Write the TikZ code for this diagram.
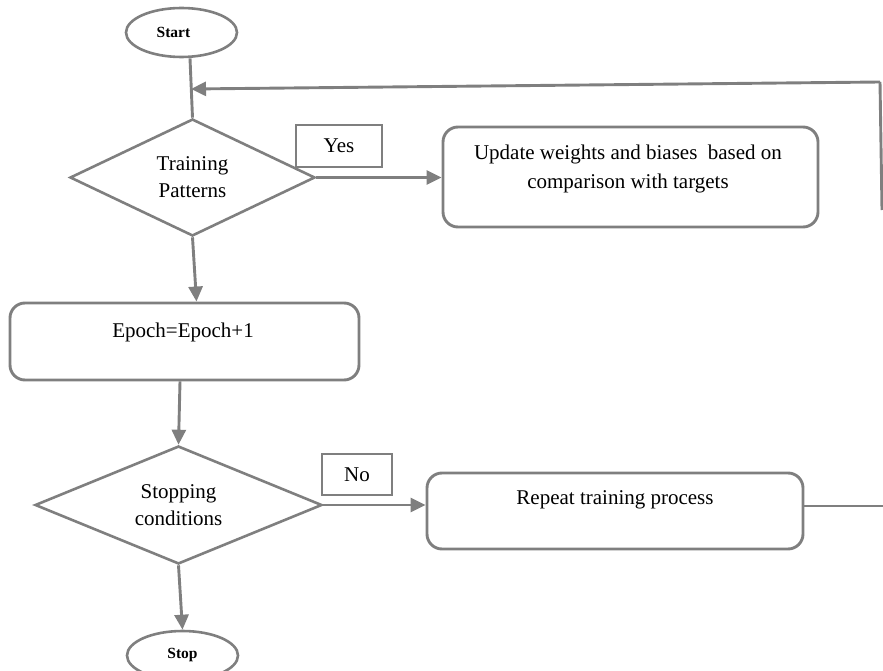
\documentclass[tikz,border=0pt]{standalone}
\usepackage{fontspec}
\setmainfont{Liberation Serif}
\usetikzlibrary{shapes.geometric,arrows.meta}
\definecolor{lc}{HTML}{7F7F7F}
\begin{document}
\begin{tikzpicture}[x=1pt,y=-1pt,
  line/.style={draw=lc,line width=2.9pt},
  arr/.style={line,-{Triangle[length=15pt,width=14pt]}},
  txt/.style={font=\fontsize{21}{29}\selectfont,align=center,inner sep=0pt},
  oval/.style={ellipse,draw=lc,line width=2.6pt,minimum width=111pt,minimum height=49pt,inner sep=0pt,font=\fontsize{15.5}{18}\selectfont\bfseries},
  dia/.style={diamond,draw=lc,line width=2.6pt,aspect=2.1,inner sep=0pt,font=\fontsize{21}{27}\selectfont,align=center},
  rbox/.style={draw=lc,line width=2.9pt,rounded corners=15pt,inner sep=0pt},
  lbox/.style={draw=lc,line width=2.6pt,inner sep=0pt,font=\fontsize{21}{24}\selectfont}]
\useasboundingbox (0,0) rectangle (883,671);

% nodes
\node[oval] (start) at (181.5,32.5) {\hspace*{-16pt}Start};
\node[dia,minimum width=245pt,minimum height=117pt] (d1) at (192.5,177.5) {Training\\Patterns};
\node[lbox,minimum width=86pt,minimum height=42pt] (yes) at (339,146) {Yes};
\node[rbox,minimum width=375pt,minimum height=100pt] (upd) at (630.5,177) {};
\node[txt] (updt) at (628,169) {Update weights and biases\ \ based on\\comparison with targets};
\node[rbox,minimum width=349pt,minimum height=77pt] (epoch) at (184.5,341.5) {};
\node[txt] (epocht) at (183,332) {Epoch=Epoch+1};
\node[dia,minimum width=287pt,minimum height=118pt] (d2) at (178.5,505) {Stopping\\conditions};
\node[lbox,minimum width=70pt,minimum height=41pt] (no) at (357,474.5) {No};
\node[rbox,minimum width=376pt,minimum height=76pt] (rep) at (615,511) {};
\node[txt] (rept) at (615,500) {Repeat training process};
\node[oval] (stop) at (182.5,655.5) {Stop};

\coordinate (fbtop) at (880,82);
\coordinate (fbend) at (882,210);
\coordinate (fbin) at (191,89);
\coordinate (rpout) at (883,506);

% connectors
\draw[line] ([xshift=8.5pt]start.south) -- (d1.north);
\draw[arr] (d1.east) -- (upd.west |- d1.east);
\draw[arr] (d1.south) -- ([xshift=12pt]epoch.north);
\draw[arr] ([xshift=-4.5pt]epoch.south) -- (d2.north);
\draw[arr] (d2.east) -- (rep.west |- d2.east);
\draw[arr] (d2.south) -- (stop.north);
\draw[line] (rep.east |- rpout) -- (rpout);
\draw[line] (fbend) -- (fbtop);
\draw[arr] (fbtop) -- (fbin);
\end{tikzpicture}
\end{document}
